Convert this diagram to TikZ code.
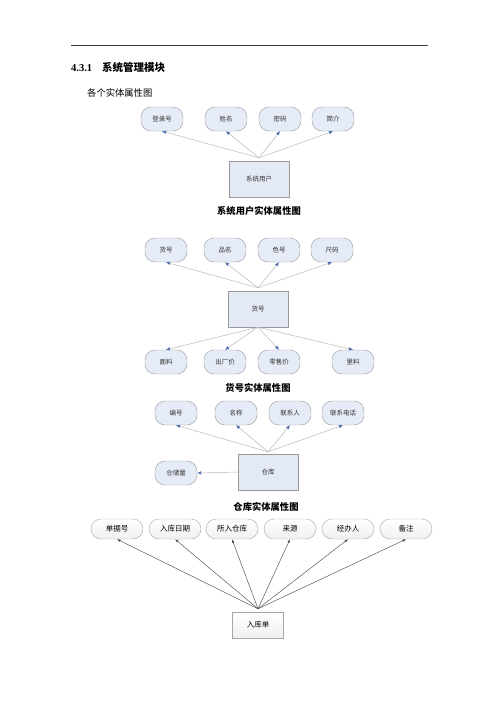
\documentclass[tikz,border=0pt]{standalone}
\usepackage{fontspec}
\setmainfont{Liberation Serif}
\newfontfamily\cjk{Noto Sans CJK SC}
\usepackage{tikz}
\usetikzlibrary{arrows.meta}
\usetikzlibrary{positioning}
\usetikzlibrary{calc}
\definecolor{attrfill}{HTML}{E6ECF7}
\definecolor{entfill}{HTML}{E3E9F5}
\definecolor{tipblue}{HTML}{4A6AAE}
\tikzstyle{attr}=[draw=black!40,fill=attrfill,rounded corners=10pt,minimum width=42pt,minimum height=24pt,inner sep=1pt,text=black!80,font=\cjk\fontsize{6.5}{7}\selectfont]
\tikzstyle{entity}=[draw=black!40,fill=entfill,minimum width=60pt,minimum height=36pt,inner sep=1pt,text=black!80,font=\cjk\fontsize{6.5}{7}\selectfont]

\begin{document}
\begin{tikzpicture}[
  x=1pt,y=-1pt,
  link/.style={draw=black!28,line width=0.5pt,-{Latex[color=tipblue,length=4pt,width=3.5pt]}},
  caption/.style={font=\cjk\bfseries\fontsize{9.3}{10}\selectfont},
  plain attr/.style={draw=black!35,top color=white,bottom color=black!6,rounded corners=10pt,minimum width=52pt,minimum height=20pt,inner sep=1pt,font=\cjk\fontsize{7.5}{8}\selectfont},
  plain entity/.style={draw=black!35,top color=white,bottom color=black!6,minimum width=51pt,minimum height=26pt,inner sep=1pt,font=\cjk\fontsize{7.5}{8}\selectfont},
  plain link/.style={draw=black!70,line width=0.45pt,-{Latex[length=3.5pt,width=2.5pt]}},
]
\useasboundingbox (0,0) rectangle (500,707);
\draw[black!75,line width=0.6pt] (71,45) -- (428,45);
\node[anchor=west,inner sep=0] (sec) at (71,67) {\fontsize{10.5}{12}\selectfont\bfseries 4.3.1\hspace{10pt}{\cjk 系统管理模块}};
\node[anchor=west,inner sep=0] (intro) at (87,93) {\cjk\fontsize{9.3}{10}\selectfont 各个实体属性图};

% system user
\node[attr] (a1) at (162,119) {登录号};
\node[attr] (a2) at (226,119) {姓名};
\node[attr] (a3) at (280,119) {密码};
\node[attr] (a4) at (333,119) {简介};
\node[entity] (u) at (259,179) {系统用户};
\coordinate (uc) at ([yshift=3pt]u.north);
\foreach \n in {a1,a2,a3,a4}
  \draw[link] (uc) -- (\n.south);
\node[caption] (cap1) at (259,211) {系统用户实体属性图};

% goods
\node[attr] (g1) at (166,250) {货号};
\node[attr] (g2) at (225,250) {品名};
\node[attr] (g3) at (279,250) {色号};
\node[attr] (g4) at (332,250) {尺码};
\node[entity] (g) at (258,309) {货号};
\node[attr] (b1) at (166,362) {面料};
\node[attr] (b2) at (225,362) {出厂价};
\node[attr] (b3) at (279,362) {零售价};
\node[attr] (b4) at (353,362) {里料};
\coordinate (gt) at ([yshift=3pt]g.north);
\foreach \n in {g1,g2,g3,g4}
  \draw[link] (gt) -- (\n.south);
\foreach \n in {b1,b2,b3,b4}
  \draw[link] (g.south) -- (\n.north);
\node[caption] (cap2) at (258,388) {货号实体属性图};

% store
\node[attr] (w1) at (176,413) {编号};
\node[attr] (w2) at (236,413) {名称};
\node[attr] (w3) at (290,413) {联系人};
\node[attr] (w4) at (343,413) {联系电话};
\node[entity] (w) at (268,472) {仓库};
\node[attr] (w5) at (176,473) {仓储量};
\coordinate (wt) at ([yshift=2pt]w.north);
\foreach \n in {w1,w2,w3,w4}
  \draw[link] (wt) -- (\n.south);
\draw[link] (w.west) -- (w5.east);
\node[caption] (cap3) at (266,507) {仓库实体属性图};

% stock-in form
\node[plain attr] (r1) at (117,529) {单据号};
\node[plain attr] (r2) at (175,529) {入库日期};
\node[plain attr] (r3) at (232,529) {所入仓库};
\node[plain attr] (r4) at (290,529) {来源};
\node[plain attr] (r5) at (348,529) {经办人};
\node[plain attr] (r6) at (406,529) {备注};
\node[plain entity] (r) at (258,625) {入库单};
\coordinate (rt) at ([yshift=3pt]r.north);
\foreach \n in {r1,r2,r3,r4,r5,r6}
  \draw[plain link] (rt) -- (\n.south);
\end{tikzpicture}
\end{document}
